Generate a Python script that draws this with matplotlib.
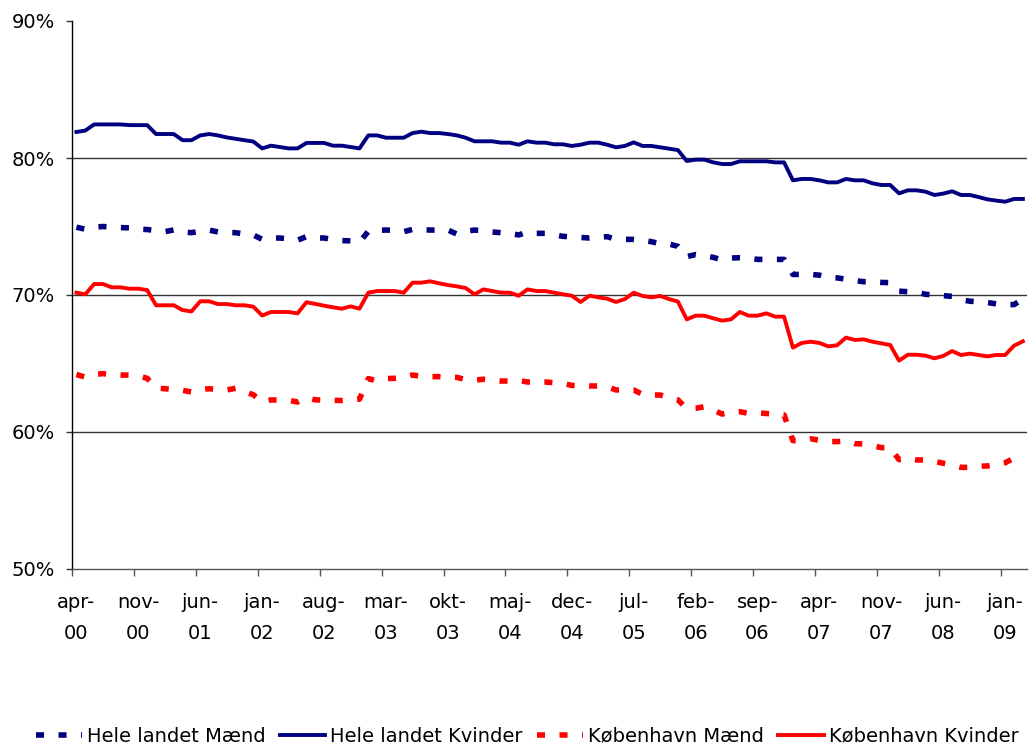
import matplotlib
matplotlib.use("Agg")
import matplotlib.pyplot as plt
import numpy as np

# ---------------- data (monthly, apr-00 .. mar-09) ----------------
months = list(range(108))  # category index, apr-00 = 0

tick_labels = ["apr-\n00", "nov-\n00", "jun-\n01", "jan-\n02", "aug-\n02", "mar-\n03",
               "okt-\n03", "maj-\n04", "dec-\n04", "jul-\n05", "feb-\n06", "sep-\n06",
               "apr-\n07", "nov-\n07", "jun-\n08", "jan-\n09"]

hele_maend = [
    74.95, 74.8, 74.95, 75.0, 74.95, 74.92, 74.9, 74.8, 74.78, 74.7, 74.62, 74.75,
    74.6, 74.55, 74.65, 74.74, 74.6, 74.55, 74.55, 74.45, 74.38, 74.06, 74.16, 74.16,
    74.1, 74.0, 74.26, 74.16, 74.16, 74.05, 73.97, 73.95, 73.85, 74.65, 74.72,
    74.74, 74.72, 74.62, 74.79, 74.76, 74.74, 74.74, 74.74, 74.45, 74.65, 74.74, 74.7,
    74.6, 74.55, 74.5, 74.38, 74.6, 74.5, 74.5, 74.4, 74.28, 74.25, 74.2, 74.16,
    74.2, 74.26, 74.06, 74.06, 74.06, 74.0, 73.89, 73.75, 73.72, 73.55,
    72.8, 72.95, 72.85, 72.75, 72.55, 72.7, 72.72, 72.68, 72.6, 72.6, 72.6, 72.6,
    71.5, 71.5, 71.5, 71.45, 71.29, 71.25, 71.15, 71.05, 70.97, 70.97, 70.92, 70.9,
    70.28, 70.24, 70.2, 70.05, 70.0, 69.95, 69.9, 69.65, 69.55, 69.5, 69.45, 69.35,
    69.3, 69.3, 69.7]

hele_kvinder = [
    81.9, 82.0, 82.45, 82.45, 82.45, 82.45, 82.4, 82.4, 82.4, 81.75, 81.75, 81.75,
    81.3, 81.3, 81.65, 81.75, 81.65, 81.5, 81.4, 81.3, 81.2, 80.7, 80.9, 80.8,
    80.7, 80.7, 81.1, 81.1, 81.1, 80.9, 80.9, 80.8, 80.7, 81.65, 81.65,
    81.48, 81.48, 81.48, 81.82, 81.92, 81.82, 81.82, 81.75, 81.65, 81.48, 81.22, 81.22,
    81.22, 81.12, 81.12, 80.97, 81.22, 81.12, 81.12, 81.0, 81.0, 80.88, 80.97, 81.12,
    81.12, 80.97, 80.78, 80.88, 81.14, 80.88, 80.88, 80.78, 80.68, 80.58,
    79.78, 79.88, 79.88, 79.68, 79.56, 79.56, 79.76, 79.76, 79.76, 79.76, 79.68, 79.68,
    78.37, 78.47, 78.47, 78.37, 78.22, 78.22, 78.47, 78.37, 78.37, 78.15, 78.03, 78.03,
    77.42, 77.64, 77.64, 77.54, 77.30, 77.40, 77.57, 77.30, 77.30, 77.15, 76.98, 76.89,
    76.81, 77.01, 77.01]

kbh_maend = [
    64.2, 64.0, 64.2, 64.26, 64.2, 64.16, 64.15, 64.1, 63.92, 63.2, 63.16, 63.1,
    63.04, 62.92, 63.1, 63.16, 63.1, 63.07, 63.19, 62.95, 62.72, 62.2, 62.34, 62.33,
    62.31, 62.19, 62.5, 62.35, 62.32, 62.31, 62.3, 62.32, 62.4, 63.9, 63.72,
    63.9, 63.92, 64.0, 64.16, 64.06, 64.04, 64.04, 64.0, 63.99, 63.82, 63.78, 63.85,
    63.8, 63.72, 63.72, 63.75, 63.65, 63.65, 63.65, 63.6, 63.55, 63.4, 63.38, 63.36,
    63.36, 63.3, 63.07, 63.07, 63.07, 62.75, 62.7, 62.7, 62.5, 62.35,
    61.7, 61.73, 61.85, 61.6, 61.31, 61.45, 61.48, 61.36, 61.4, 61.35, 61.3, 61.25,
    59.37, 59.37, 59.5, 59.4, 59.3, 59.3, 59.35, 59.15, 59.13, 59.0, 58.86, 58.86,
    57.98, 58.08, 57.96, 57.96, 57.85, 57.72, 57.6, 57.42, 57.42, 57.5, 57.52, 57.6,
    57.75, 58.1, 58.0]

kbh_kvinder = [
    70.17, 70.05, 70.8, 70.8, 70.56, 70.56, 70.46, 70.46, 70.36, 69.25, 69.25, 69.25,
    68.9, 68.8, 69.54, 69.54, 69.34, 69.34, 69.25, 69.25, 69.15, 68.5, 68.76, 68.76,
    68.76, 68.66, 69.47, 69.35, 69.22, 69.1, 69.0, 69.17, 69.0, 70.17, 70.29,
    70.29, 70.29, 70.17, 70.9, 70.9, 71.0, 70.85, 70.73, 70.63, 70.51, 70.05, 70.41,
    70.29, 70.17, 70.17, 69.95, 70.41, 70.29, 70.29, 70.17, 70.05, 69.95, 69.49, 69.95,
    69.83, 69.73, 69.49, 69.7, 70.17, 69.93, 69.83, 69.93, 69.7, 69.52,
    68.22, 68.49, 68.49, 68.30, 68.13, 68.22, 68.76, 68.49, 68.49, 68.66, 68.42, 68.42,
    66.16, 66.50, 66.59, 66.50, 66.25, 66.33, 66.89, 66.72, 66.76, 66.59, 66.47, 66.35,
    65.21, 65.64, 65.64, 65.57, 65.38, 65.55, 65.91, 65.62, 65.72, 65.62, 65.52, 65.62,
    65.62, 66.30, 66.62]

series_names = ["Hele landet Mænd", "Hele landet Kvinder", "København Mænd", "København Kvinder"]

y_ticks = [50, 60, 70, 80, 90]
y_labels = ["50%", "60%", "70%", "80%", "90%"]
label_step = 7

# ---------------- figure ----------------
W, H = 1032, 745
fig = plt.figure(figsize=(W / 100, H / 100), dpi=100)
ax = fig.add_axes([72 / W, 1 - 569 / H, (1027.3 - 72) / W, (569 - 21) / H])

navy = "#000080"
red = "#FF0000"

l1, = ax.plot(months, hele_maend, color=navy, lw=4.0, dashes=(1.45, 2.6),
              dash_capstyle="butt", zorder=3)
l2, = ax.plot(months, hele_kvinder, color=navy, lw=2.8, solid_joinstyle="round", zorder=4)
l3, = ax.plot(months, kbh_maend, color=red, lw=4.0, dashes=(1.45, 2.6),
              dash_capstyle="butt", zorder=5)
l4, = ax.plot(months, kbh_kvinder, color=red, lw=2.8, solid_joinstyle="round", zorder=6)

ax.set_xlim(-0.5, len(months) - 0.5)
ax.set_ylim(50, 90)

# gridlines (60, 70, 80)
for v in y_ticks[1:-1]:
    ax.axhline(v, color="#333333", lw=1.0, zorder=1)

ax.set_yticks(y_ticks)
ax.set_yticklabels(y_labels, fontsize=14)
ax.tick_params(axis="y", direction="out", length=4, width=1, color="#333333", pad=8.5)

# x ticks: marks at category boundaries, labels at category centres
label_pos = list(range(0, len(months), label_step))
ax.set_xticks([p - 0.5 for p in label_pos])
ax.set_xticklabels([])
ax.set_xticks(label_pos, minor=True)
ax.set_xticklabels(tick_labels, minor=True, fontsize=14, linespacing=1.75)
ax.tick_params(axis="x", which="major", direction="out", length=5, width=1, color="#555555")
ax.tick_params(axis="x", which="minor", length=0, pad=17.5)

for s in ["top", "right"]:
    ax.spines[s].set_visible(False)
ax.spines["left"].set_color("#000000")
ax.spines["left"].set_linewidth(1.0)
ax.spines["bottom"].set_color("#555555")
ax.spines["bottom"].set_linewidth(1.0)

fig.legend([l1, l2, l3, l4], series_names, loc="center left",
           bbox_to_anchor=(36 / W, 1 - 736 / H), ncol=4, frameon=False,
           fontsize=14, handlelength=2.35, handletextpad=0.25, columnspacing=0.75,
           borderpad=0, borderaxespad=0)

fig.savefig("out.png", dpi=100)
